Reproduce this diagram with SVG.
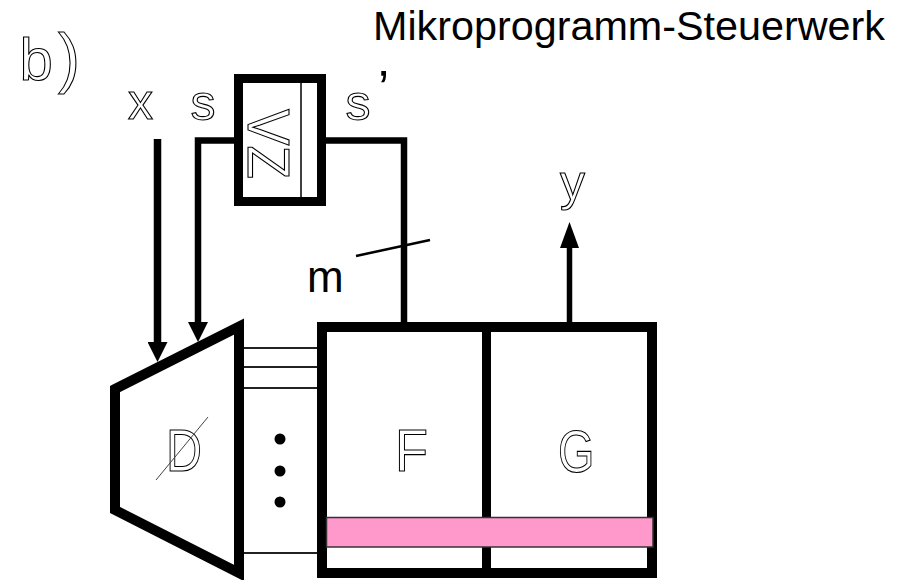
<svg xmlns="http://www.w3.org/2000/svg" width="910" height="580" viewBox="0 0 910 580">
  <style>
    .hol { font-family: "Liberation Sans", Arial, sans-serif; fill: #fff; stroke: #000; stroke-width: 1.1; }
    .sol { font-family: "Liberation Sans", Arial, sans-serif; fill: #000; }
    .thick { fill: none; stroke: #000; stroke-linejoin: miter; }
    .bus { stroke: #222; stroke-width: 2; }
  </style>
  <defs>
    <marker id="ah" markerUnits="userSpaceOnUse" viewBox="0 0 20 20" markerWidth="20" markerHeight="20" refX="0" refY="10" orient="auto">
      <path d="M0,0 L20,10 L0,20 Z" fill="#000"/>
    </marker>
    <marker id="ahY" markerUnits="userSpaceOnUse" viewBox="0 0 26 20" markerWidth="26" markerHeight="20" refX="0" refY="10" orient="auto">
      <path d="M0,0.5 L26,10 L0,19.5 Z" fill="#000"/>
    </marker>
  </defs>
  <rect width="910" height="580" fill="#fff"/>

  <text class="sol" x="373" y="40" font-size="40" textLength="512" lengthAdjust="spacingAndGlyphs">Mikroprogramm-Steuerwerk</text>

  <g id="label-b">
    <text class="hol" x="19.5" y="80" font-size="60">b</text>
    <text class="hol" x="58" y="80" font-size="66">)</text>
  </g>

  <g id="io-labels">
    <text class="hol" x="128" y="119" font-size="50">x</text>
    <text class="hol" x="190.5" y="119.5" font-size="50">s</text>
    <text class="hol" x="345.5" y="119.5" font-size="50">s</text>
    <text class="sol" x="378" y="106" font-size="50">’</text>
    <text class="hol" x="560" y="200" font-size="50">y</text>
  </g>

  <g id="connectors">
    <line class="thick" x1="157.5" y1="139" x2="157.5" y2="342" stroke-width="7.5" marker-end="url(#ah)"/>
    <path class="thick" d="M234,140.5 H198 V322" stroke-width="6.5" marker-end="url(#ah)"/>
    <path class="thick" d="M326,140.5 H404 V322" stroke-width="6.5"/>
    <line x1="356" y1="256" x2="430" y2="240" stroke="#000" stroke-width="2.5"/>
    <line class="thick" x1="569.5" y1="322" x2="569.5" y2="248" stroke-width="5.5" marker-end="url(#ahY)"/>
    <line class="bus" x1="243" y1="348" x2="317" y2="348"/>
    <line class="bus" x1="243" y1="367" x2="317" y2="367"/>
    <line class="bus" x1="243" y1="388" x2="317" y2="388"/>
    <line class="bus" x1="243" y1="553" x2="317" y2="553"/>
  </g>

  <text class="sol" x="307" y="292" font-size="44">m</text>

  <g id="node-zv">
    <rect class="thick" x="238.5" y="78.5" width="83" height="123" stroke-width="9"/>
    <line x1="301" y1="83" x2="301" y2="197" stroke="#000" stroke-width="1.5"/>
    <text class="hol" font-size="60" transform="translate(248,109) rotate(90)" textLength="70" lengthAdjust="spacingAndGlyphs">VZ</text>
  </g>

  <g id="node-decoder">
    <polygon class="thick" points="115,389 239,326.5 239,573 115,510" stroke-width="10"/>
    <text class="hol" x="166" y="471" font-size="60" textLength="36" lengthAdjust="spacingAndGlyphs">D</text>
    <line x1="156" y1="480" x2="208" y2="417" stroke="#444" stroke-width="1"/>
  </g>

  <g id="dots">
    <circle cx="280" cy="439" r="5.5" fill="#000"/>
    <circle cx="280" cy="471" r="5.5" fill="#000"/>
    <circle cx="280" cy="502" r="5.5" fill="#000"/>
  </g>

  <g id="node-fg">
    <rect class="thick" x="322" y="327" width="330" height="246" stroke-width="10"/>
    <line x1="486.5" y1="327" x2="486.5" y2="573" stroke="#000" stroke-width="9"/>
    <text class="hol" x="395" y="471" font-size="60" textLength="33" lengthAdjust="spacingAndGlyphs">F</text>
    <text class="hol" x="558" y="472" font-size="60" textLength="36.4" lengthAdjust="spacingAndGlyphs">G</text>
  </g>

  <g id="node-register">
    <rect x="326.5" y="517.5" width="326.5" height="29.5" fill="#ff99cc" stroke="#333" stroke-width="1.5"/>
  </g>
</svg>
